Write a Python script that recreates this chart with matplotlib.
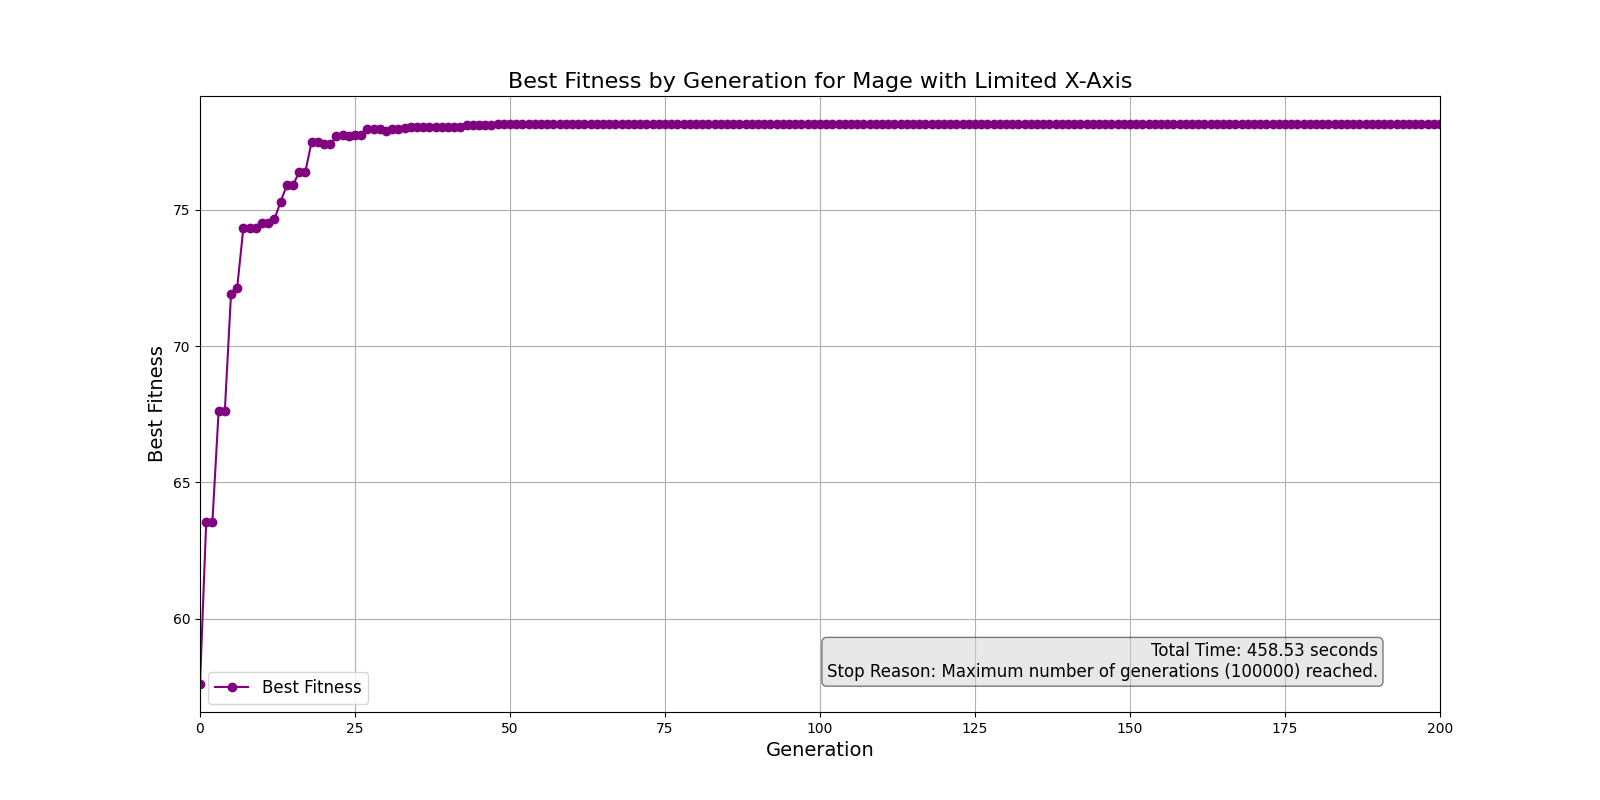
import numpy as np
import matplotlib
matplotlib.use('Agg')
import matplotlib.pyplot as plt

# best fitness per generation
early_fitness = [57.6, 63.55, 63.55, 67.6, 67.6, 71.9, 72.15, 74.35, 74.35, 74.35,
                 74.5, 74.5, 74.65, 75.3, 75.9, 75.9, 76.4, 76.4, 77.5, 77.5,
                 77.4, 77.4, 77.7, 77.75, 77.7, 77.75, 77.75, 77.95, 77.95, 77.95,
                 77.9, 77.95, 77.95, 78.0, 78.05, 78.05, 78.05, 78.05, 78.05, 78.05,
                 78.05, 78.05, 78.05, 78.1, 78.1, 78.1, 78.1, 78.1]
plateau_value = 78.15
n_generations = 201

fitness = early_fitness + [plateau_value] * (n_generations - len(early_fitness))
generations = list(range(n_generations))

total_time = 458.53
stop_reason = "Maximum number of generations (100000) reached."

fig, ax = plt.subplots(figsize=(16, 8), dpi=100)
ax.plot(generations, fitness, marker='o', color='purple', label='Best Fitness')
ax.set_xlim(0, 200)
ax.set_title('Best Fitness by Generation for Mage with Limited X-Axis', fontsize=16)
ax.set_xlabel('Generation', fontsize=14)
ax.set_ylabel('Best Fitness', fontsize=14)
ax.grid(True)
ax.legend(loc='lower left', fontsize=12)

ax.text(0.95, 0.05, f"Total Time: {total_time:.2f} seconds\nStop Reason: {stop_reason}",
        transform=ax.transAxes, ha='right', va='bottom', fontsize=12,
        bbox=dict(boxstyle='round', facecolor='lightgray', alpha=0.5))

plt.savefig('out.png')
